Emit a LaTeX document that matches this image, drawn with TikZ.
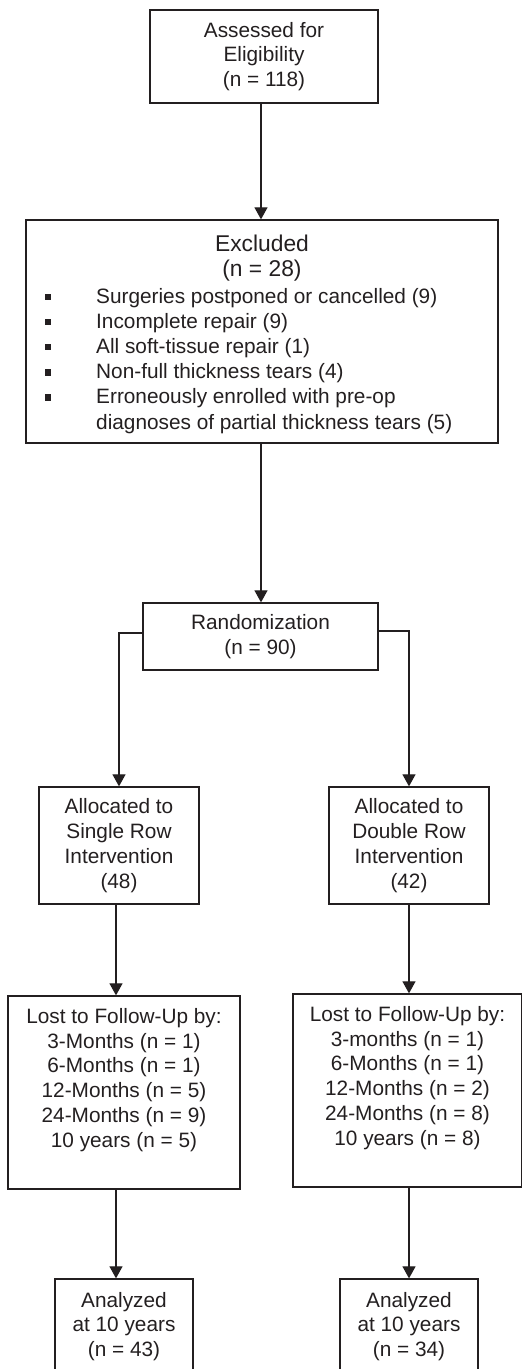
\documentclass[tikz,border=0pt]{standalone}
\usepackage{fontspec}
\setmainfont{Liberation Sans}
\usetikzlibrary{arrows.meta}
\definecolor{ink}{HTML}{231F20}
\tikzset{
  box/.style={draw=ink, line width=1.3pt, inner sep=0pt, align=center,
    text=ink, font=\fontsize{20.8}{24.8}\selectfont},
  txt/.style={inner sep=0pt, text=ink, font=\fontsize{20.8}{24.8}\selectfont},
  big/.style={inner sep=0pt, text=ink, font=\fontsize{22.8}{25}\selectfont},
  arr/.style={draw=ink, line width=1.2pt, -{Triangle[width=13pt,length=12pt]}},
  bul/.style={fill=ink}
}
\begin{document}
\begin{tikzpicture}[x=1pt,y=-1pt]
\useasboundingbox (0,0) rectangle (522,1369);
\coordinate (cx) at (261,0);
\coordinate (lx) at (116,0);

% Boxes
\node[box, minimum width=228pt, minimum height=93pt] (assess) at (264,56.5)
  {Assessed for\\Eligibility\\(n = 118)};
\node[box, minimum width=472pt, minimum height=223pt] (excl) at (262,331.5) {};
\node[big, anchor=base] (exT) at (262,251) {Excluded};
\node[big, anchor=base] (exN) at (262,276) {(n = 28)};
\foreach \t [count=\i from 0] in {Surgeries postponed or cancelled (9),
    Incomplete repair (9), All soft-tissue repair (1),
    Non-full thickness tears (4), Erroneously enrolled with pre-op,
    diagnoses of partial thickness tears (5)}{
  \node[txt, anchor=base west] (ex\i) at (96,303+25.2*\i) {\t};
}
\foreach \i in {0,...,4}{
  \fill[bul] (44.8,293.6+25.2*\i) rectangle ++(6.4,6.4);
}
\node[box, minimum width=235pt, minimum height=67pt] (rand) at (260.5,636.5)
  {Randomization\\(n = 90)};
\node[box, minimum width=160pt, minimum height=117pt] (al1) at (119,845.5)
  {Allocated to\\Single Row\\Intervention\\(48)};
\node[box, minimum width=160pt, minimum height=117pt] (al2) at (409,845.5)
  {Allocated to\\Double Row\\Intervention\\(42)};
\node[box, minimum width=232pt, minimum height=193pt] (lost1) at (124,1092.5) {};
\node[txt, align=center] (lost1t) at ([yshift=12.5pt]lost1.center)
  {Lost to Follow-Up by:\\3-Months (n = 1)\\6-Months (n = 1)\\12-Months (n = 5)\\24-Months (n = 9)\\10 years (n = 5)};
\node[box, minimum width=229pt, minimum height=193pt] (lost2) at (407.5,1090.5) {};
\node[txt, align=center] (lost2t) at ([yshift=12.5pt]lost2.center)
  {Lost to Follow-Up by:\\3-months (n = 1)\\6-Months (n = 1)\\12-Months (n = 2)\\24-Months (n = 8)\\10 years (n = 8)};
\node[box, minimum width=138pt, minimum height=95pt] (an1) at (124,1326.5)
  {Analyzed\\at 10 years\\(n = 43)};
\node[box, minimum width=138pt, minimum height=95pt] (an2) at (409,1326.5)
  {Analyzed\\at 10 years\\(n = 34)};

% Connectors
\draw[arr] (assess.south -| cx) -- (excl.north -| cx);
\draw[arr] (excl.south -| cx) -- (rand.north -| cx);
\draw[arr] ([yshift=3.5pt]rand.west) -| (al1.north);
\draw[arr] ([yshift=5.5pt]rand.east) -| (al2.north);
\draw[arr] (al1.south -| lx) -- (lost1.north -| lx);
\draw[arr] (lost1.south -| lx) -- (an1.north -| lx);
\draw[arr] (al2.south) -- (lost2.north -| al2.south);
\draw[arr] (lost2.south -| an2.north) -- (an2.north);
\end{tikzpicture}
\end{document}
